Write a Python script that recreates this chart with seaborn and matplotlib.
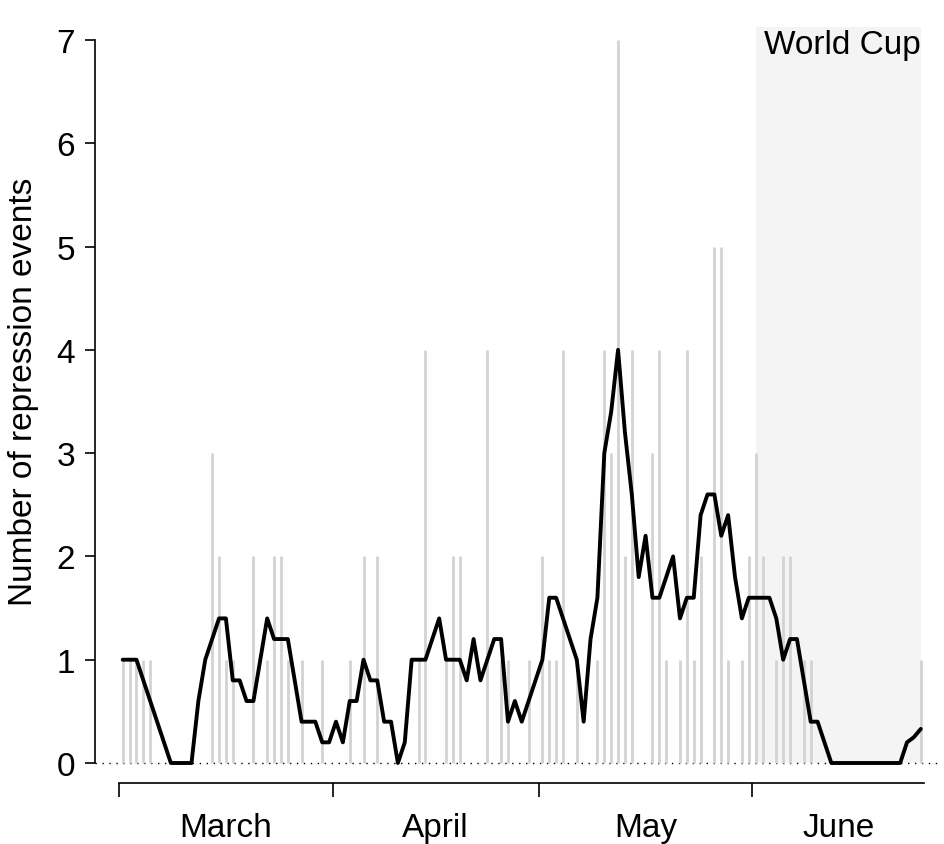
import numpy as np
import pandas as pd
import matplotlib
matplotlib.use("Agg")
import matplotlib.pyplot as plt
import seaborn as sns

# daily counts of repression events, 1 March - 25 June
march = [1, 1, 1, 1, 1, 0, 0, 0, 0, 0, 0, 0, 0, 3, 2, 1, 1, 0, 0, 2,
         0, 1, 2, 2, 1, 0, 1, 0, 0, 1, 0]
april = [0, 0, 1, 0, 2, 0, 2, 0, 0, 0, 0, 0, 1, 4, 0, 0, 1, 2, 2, 0,
         0, 0, 4, 0, 1, 1, 0, 0, 1, 0]
may = [2, 1, 1, 4, 0, 1, 0, 0, 1, 4, 3, 7, 2, 4, 0, 0, 3, 4, 1, 0,
       1, 4, 1, 2, 0, 5, 5, 1, 0, 1, 2]
june = [3, 2, 0, 1, 2, 2, 0, 1, 1, 0, 0, 0, 0, 0, 0, 0, 0, 0, 0, 0,
        0, 0, 0, 0, 1]

# smoothed line (5-day centred mean)
smooth_march = [1.0, 1.0, 1.0, 0.8, 0.6, 0.4, 0.2, 0, 0, 0, 0, 0.6, 1.0, 1.2,
                1.4, 1.4, 0.8, 0.8, 0.6, 0.6, 1.0, 1.4, 1.2, 1.2, 1.2, 0.8,
                0.4, 0.4, 0.4, 0.2, 0.2]
smooth_april = [0.4, 0.2, 0.6, 0.6, 1.0, 0.8, 0.8, 0.4, 0.4, 0, 0.2, 1.0, 1.0,
                1.0, 1.2, 1.4, 1.0, 1.0, 1.0, 0.8, 1.2, 0.8, 1.0, 1.2, 1.2,
                0.4, 0.6, 0.4, 0.6, 0.8]
smooth_may = [1.0, 1.6, 1.6, 1.4, 1.2, 1.0, 0.4, 1.2, 1.6, 3.0, 3.4, 4.0, 3.2,
              2.6, 1.8, 2.2, 1.6, 1.6, 1.8, 2.0, 1.4, 1.6, 1.6, 2.4, 2.6, 2.6,
              2.2, 2.4, 1.8, 1.4, 1.6]
smooth_june = [1.6, 1.6, 1.6, 1.4, 1.0, 1.2, 1.2, 0.8, 0.4, 0.4, 0.2, 0, 0, 0,
               0, 0, 0, 0, 0, 0, 0, 0, 0.2, 0.25, 0.33]

months = ["March", "April", "May", "June"]
world_cup_start = "2014-06-01"
world_cup_end = "2014-06-25"

counts = march + april + may + june
smooth = smooth_march + smooth_april + smooth_may + smooth_june
dates = pd.date_range("2014-03-01", periods=len(counts), freq="D")
df = pd.DataFrame({"date": dates, "events": counts, "smooth": smooth})
df["day"] = (df["date"] - dates[0]).dt.days

sns.set_style("ticks")
plt.rcParams["font.family"] = ["Liberation Sans", "DejaVu Sans"]
plt.rcParams["text.color"] = "black"

FS = 24
W, H = 945, 845
fig = plt.figure(figsize=(W / 100, H / 100), dpi=100)
left, right, top, bottom = 95, 940, 28, 784
ax = fig.add_axes([left / W, (H - bottom) / H, (right - left) / W, (bottom - top) / H])

# pixel mapping used to match the reference frame
x0, dx = 122.7, 6.88
y0, dy = 764, 103.29
ax.set_xlim((left - x0) / dx, (right - x0) / dx)
ax.set_ylim((y0 - bottom) / dy, (y0 - top) / dy)

wc0 = (pd.Timestamp(world_cup_start) - dates[0]).days
wc1 = (pd.Timestamp(world_cup_end) - dates[0]).days
ax.fill_between([wc0, wc1], 0, ax.get_ylim()[1], color="#f4f4f4", lw=0, zorder=0)

ax.axhline(0, color="black", lw=1.0, ls=(0, (1, 4)), zorder=1)
ax.vlines(df["day"], 0, df["events"], color="#d3d3d3", lw=2.0, zorder=2)
sns.lineplot(data=df, x="day", y="smooth", color="black", lw=2.8, ax=ax, zorder=3)

ax.text(wc1, ax.get_ylim()[1] - 0.02, "World Cup", ha="right", va="top",
        fontsize=FS, color="black")

# axes styled like base R
for s in ["top", "right"]:
    ax.spines[s].set_visible(False)
ax.spines["left"].set_bounds(0, 7)
ax.spines["bottom"].set_bounds(-0.5, len(counts) - 0.5)
for s in ["left", "bottom"]:
    ax.spines[s].set_linewidth(1.2)
    ax.spines[s].set_color("black")

ax.set_yticks(range(0, 8))
ax.tick_params(axis="y", length=7.5, width=1.2, pad=7, labelsize=FS,
               colors="black")

month_starts = [0]
for m in [march, april, may]:
    month_starts.append(month_starts[-1] + len(m))
bounds = [s - 0.5 for s in month_starts] + [len(counts) - 0.5]
ax.set_xticks(bounds[:-1])
ax.set_xticklabels([])
ax.set_xticks([(bounds[i] + bounds[i + 1]) / 2 for i in range(4)], minor=True)
ax.set_xticklabels(months, minor=True)
ax.tick_params(axis="x", which="major", length=10, width=1.2, colors="black")
ax.tick_params(axis="x", which="minor", length=0, pad=21, labelsize=FS,
               colors="black")

ax.set_xlabel("")
ax.set_ylabel("")
fig.text(24 / W, 1 - 392 / H, "Number of repression events", rotation=90,
         ha="center", va="center", fontsize=FS, color="black")

fig.savefig("out.png", dpi=100)
